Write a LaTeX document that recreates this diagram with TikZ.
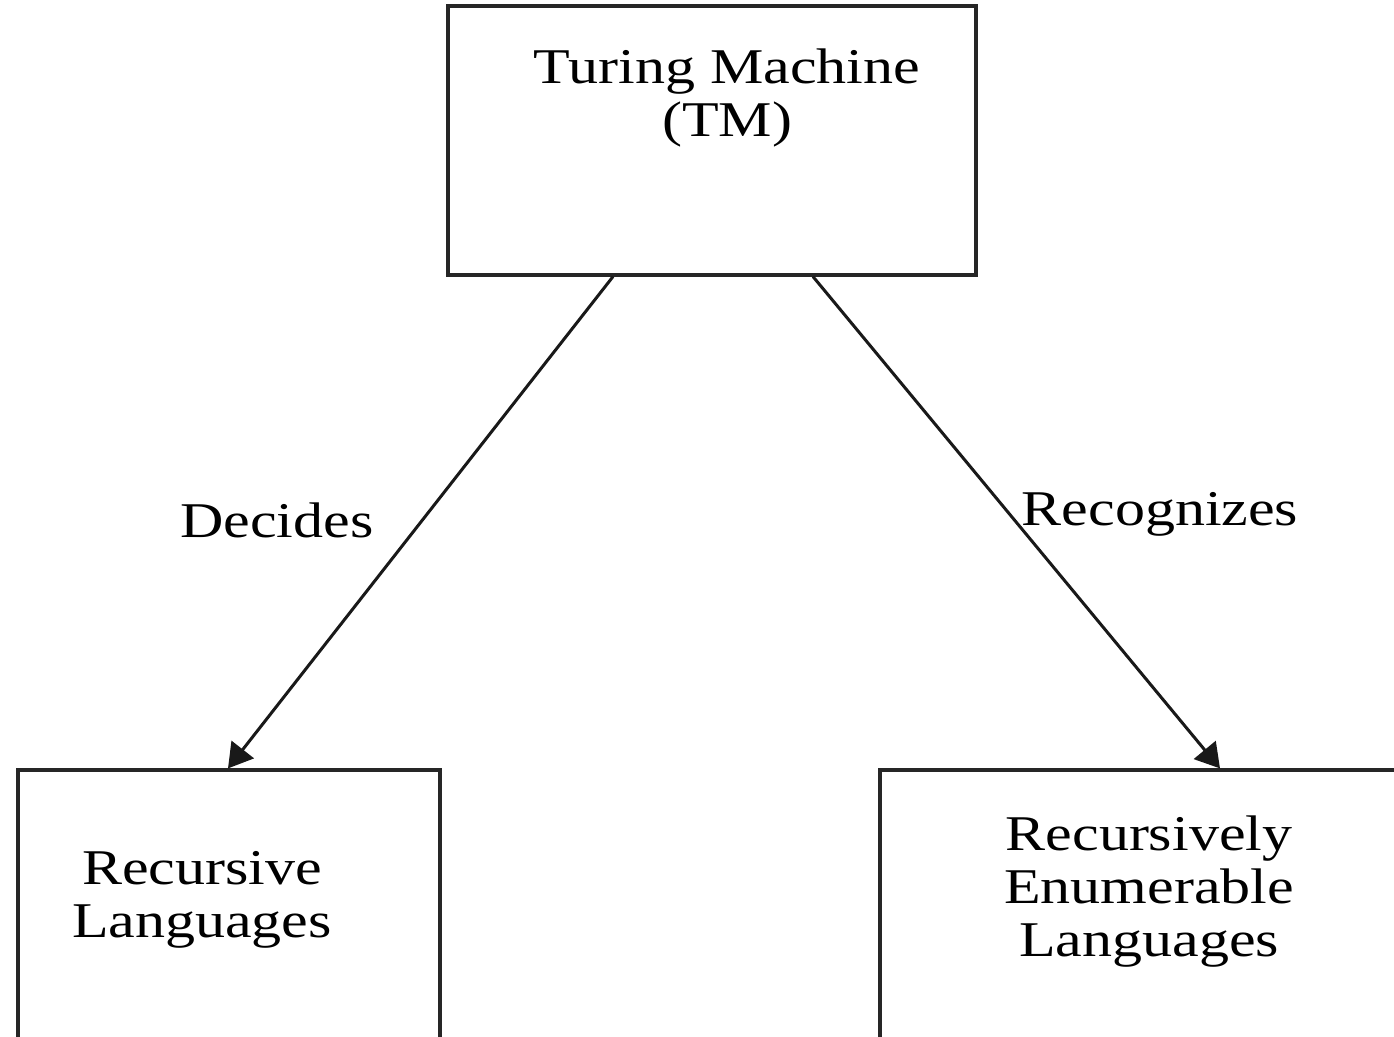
\documentclass[tikz,border=0pt]{standalone}
\usepackage{fontspec}
\setmainfont{Liberation Serif}
\usetikzlibrary{arrows.meta}
\newcommand{\wide}[1]{\scalebox{1.2}[1]{#1}}
\begin{document}
\begin{tikzpicture}[x=0.5pt,y=-0.5pt,
  box/.style={draw=black!85,line width=1.6pt,inner sep=0pt},
  lbl/.style={font=\fontsize{25}{26.5}\selectfont,align=center,inner sep=0pt},
  arr/.style={draw=black!90,line width=1.5pt,-{Triangle[length=12pt,width=14pt]}}]
\useasboundingbox (0,0) rectangle (1394,1037);
\clip (0,0) rectangle (1394,1037);
\fill[white] (0,0) rectangle (1394,1037);
\node[box,minimum width=264pt,minimum height=134.5pt] (tm) at (712,140.5) {};
\node[box,minimum width=211pt,minimum height=145pt] (rec) at (229,915) {};
\node[box,minimum width=270pt,minimum height=145pt] (re) at (1150,915) {};
\node[lbl] (tmt) at (727,98) {\wide{Turing Machine}\\\wide{(TM)}};
\node[lbl] (rect) at (202,900) {\wide{Recursive}\\\wide{Languages}};
\node[lbl] (ret) at (1149,892) {\wide{Recursively}\\\wide{Enumerable}\\\wide{Languages}};
\node[lbl] (dec) at (277,520) {\wide{Decides}};
\node[lbl] (recg) at (1160,514) {\wide{Recognizes}};
\draw[arr] ([xshift=-49.5pt]tm.south) -- ([xshift=-0.5pt]rec.north);
\draw[arr] ([xshift=50.5pt]tm.south) -- ([xshift=35pt]re.north);
\end{tikzpicture}
\end{document}
